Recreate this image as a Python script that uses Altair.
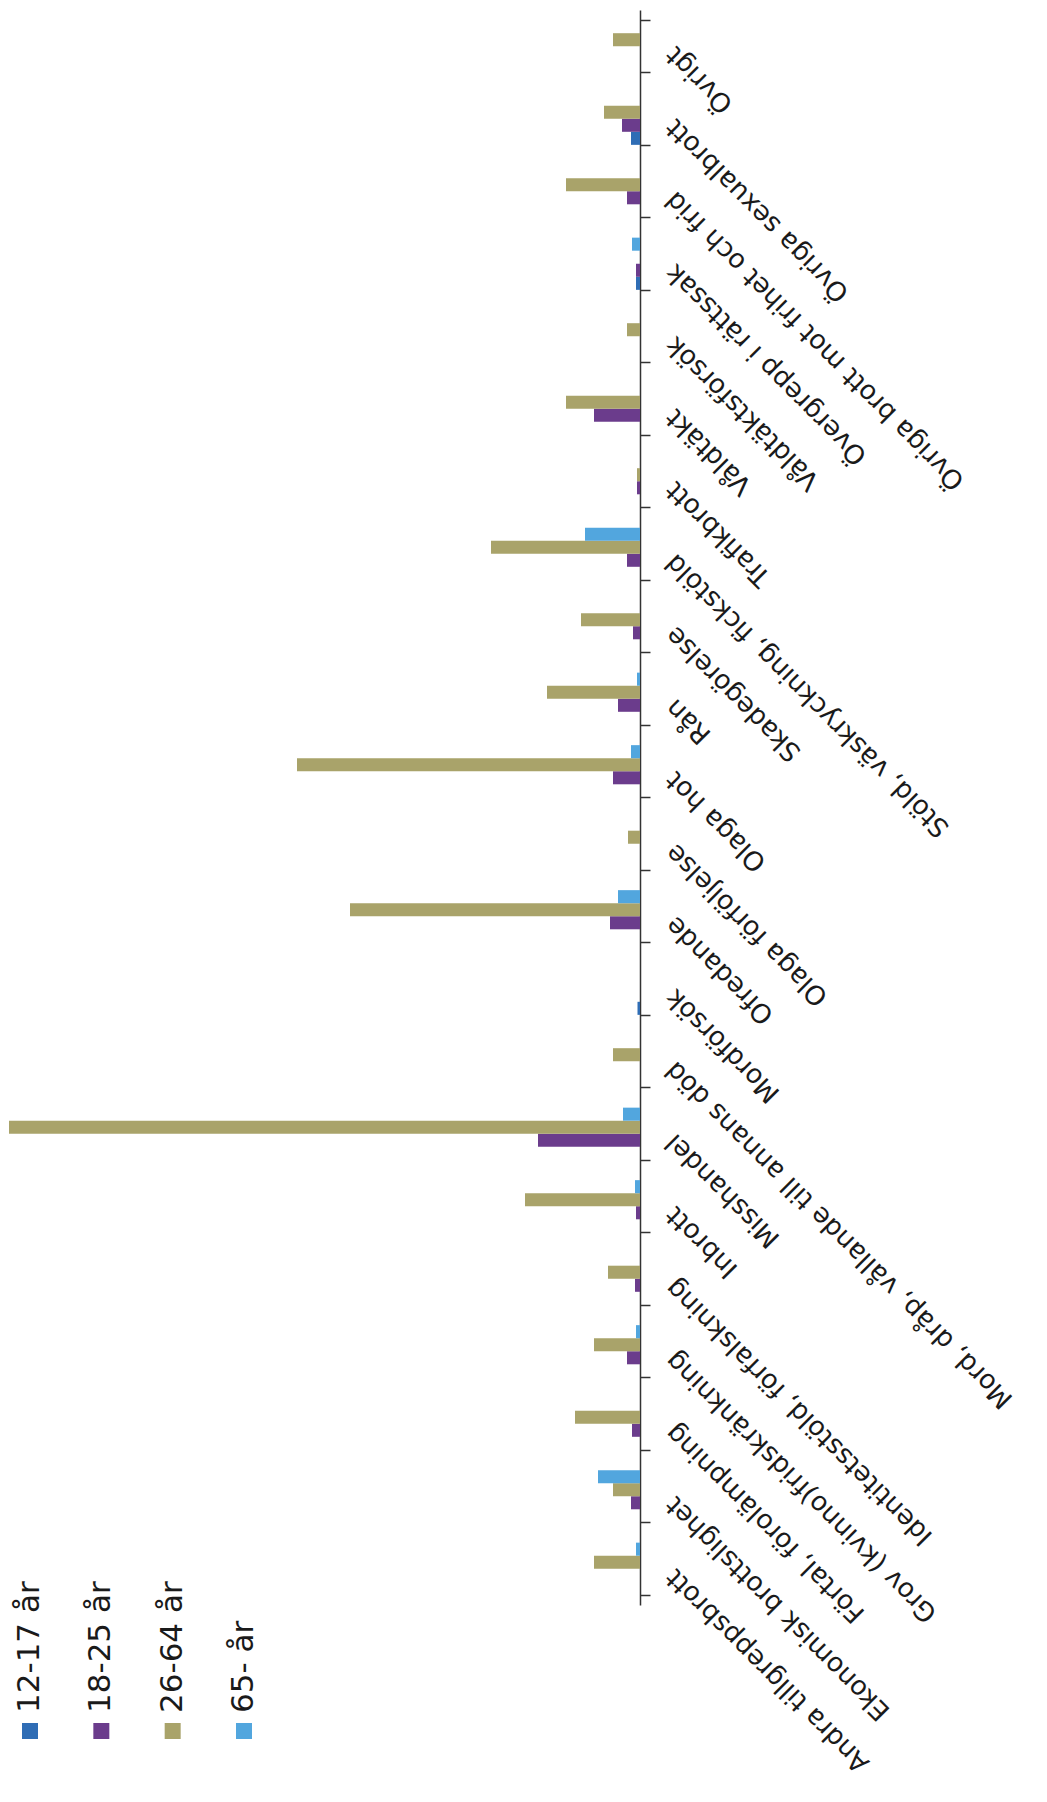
import altair as alt
import pandas as pd

# Categories listed from the bottom of the axis to the top
categories = [
    "Andra tillgreppsbrott",
    "Ekonomisk brottslighet",
    "Förtal, förolämpning",
    "Grov (kvinno)fridskränkning",
    "Identitetsstöld, förfalskning",
    "Inbrott",
    "Misshandel",
    "Mord, dråp, vållande till annans död",
    "Mordförsök",
    "Ofredande",
    "Olaga förföljelse",
    "Olaga hot",
    "Rån",
    "Skadegörelse",
    "Stöld, väskryckning, fickstöld",
    "Trafikbrott",
    "Våldtäkt",
    "Våldtäktsförsök",
    "Övergrepp i rättssak",
    "Övriga brott mot frihet och frid",
    "Övriga sexualbrott",
    "Övrigt",
]

series = ["12-17 år", "18-25 år", "26-64 år", "65- år"]

v_12_17 = [0, 0, 0, 0, 0, 0, 0, 0, 2.5, 0, 0, 0, 0, 0, 0, 0, 0, 0, 4, 0, 9, 0]
v_18_25 = [0, 9, 8, 13, 5, 4, 102, 0, 0, 30, 0, 27, 22, 7, 13, 3, 46, 0, 4, 13, 18, 0]
v_26_64 = [46, 27, 65, 46, 32, 115, 631, 27, 0, 290, 12, 343, 93, 59, 149, 3, 74, 13, 0, 74, 36, 27]
v_65 = [4, 42, 0, 4, 0, 5, 17, 0, 0, 22, 0, 9, 3, 0, 55, 0, 0, 0, 8, 0, 0, 0]

colors = ["#2F6DB5", "#6B3C8C", "#A9A36A", "#52A6DE"]

rows = []
for s, vals in zip(series, [v_12_17, v_18_25, v_26_64, v_65]):
    for c, v in zip(categories, vals):
        rows.append({"kategori": c, "grupp": s, "varde": v})
df = pd.DataFrame(rows)

y_order = list(reversed(categories))
offset_order = list(reversed(series))
color_scale = alt.Scale(domain=series, range=colors)

bars = alt.Chart(df).mark_bar().encode(
    x=alt.X("varde:Q",
            scale=alt.Scale(domain=[0, 632], reverse=True, nice=False, zero=True),
            axis=None),
    y=alt.Y("kategori:N", sort=y_order,
            scale=alt.Scale(paddingInner=0.28, paddingOuter=0.14),
            axis=alt.Axis(orient="right", title=None, labelAngle=225,
                          labelAlign="right", labelBaseline="middle",
                          labelFont="DejaVu Sans", labelFontSize=26.5,
                          labelColor="#1a1a1a", labelLimit=1000,
                          labelOverlap=False, labelPadding=20, labelOffset=4,
                          tickBand="extent", tickSize=10, tickColor="#333333",
                          tickWidth=1.5, domainColor="#333333", domainWidth=1.5,
                          grid=False)),
    yOffset=alt.YOffset("grupp:N", sort=offset_order),
    color=alt.Color("grupp:N", scale=color_scale, legend=None),
)

leg_df = pd.DataFrame({"grupp": series})
leg_x = alt.X("grupp:N",
              scale=alt.Scale(type="point", domain=series, range=[22, 236], padding=0),
              axis=None)

leg_sq = alt.Chart(leg_df).mark_square(size=256, opacity=1).encode(
    x=leg_x,
    y=alt.value(1721),
    color=alt.Color("grupp:N", scale=color_scale, legend=None),
)

leg_tx = alt.Chart(leg_df).mark_text(
    angle=270, align="left", baseline="middle",
    font="DejaVu Sans", fontSize=31, color="#1a1a1a",
).encode(
    x=leg_x,
    y=alt.value(1703),
    text="grupp:N",
)

chart = alt.layer(bars, leg_sq, leg_tx).resolve_scale(
    x="independent"
).properties(
    width=632,
    height=1595,
    padding={"left": 0, "top": 2, "right": 399, "bottom": 175},
    autosize=alt.AutoSizeParams(type="none"),
    background="white",
).configure_view(strokeWidth=0)

chart.save("out.html", embed_options={"renderer": "svg", "actions": False})
